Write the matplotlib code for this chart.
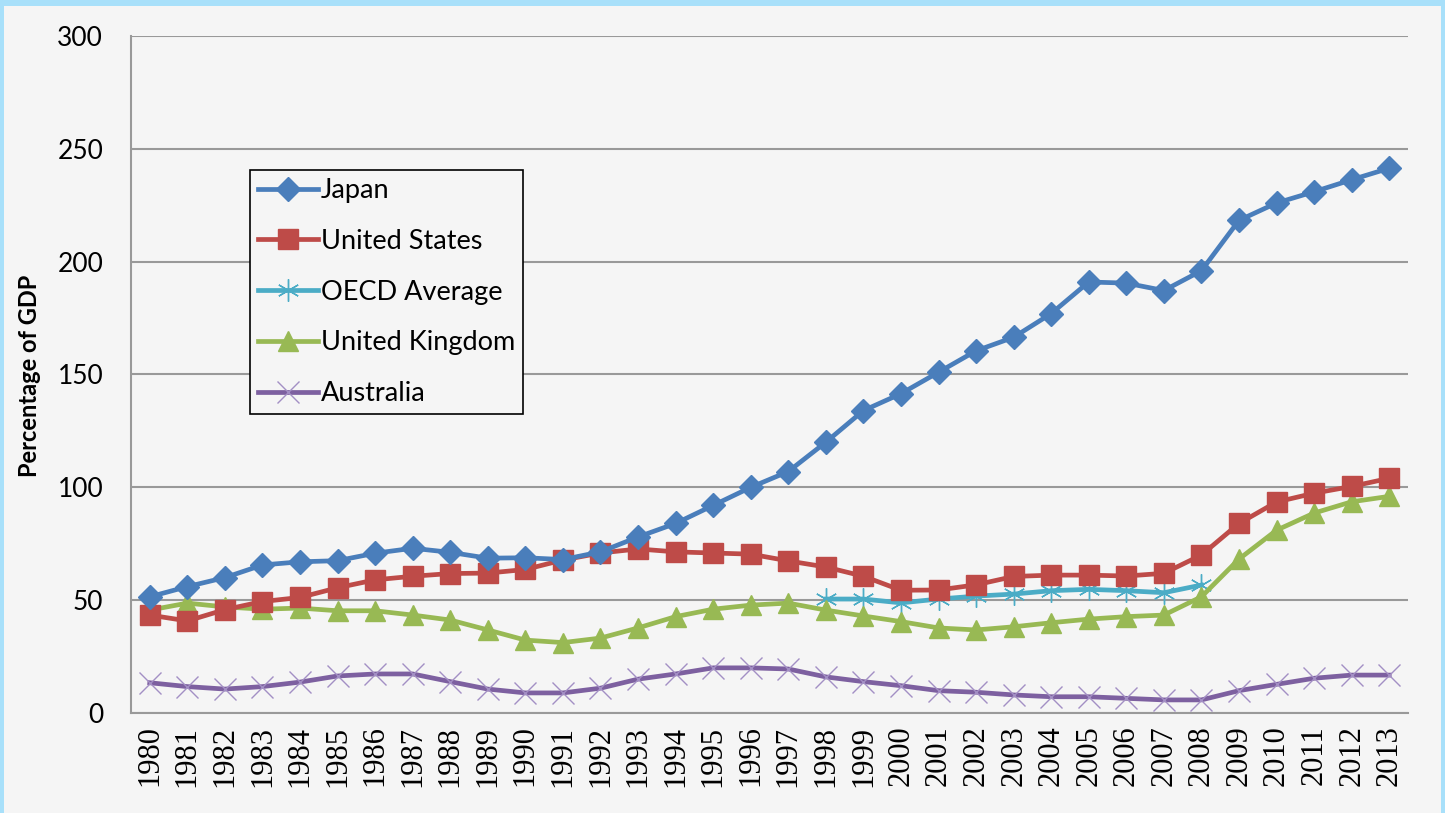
import matplotlib.pyplot as plt
from matplotlib.patches import Rectangle

years = [str(y) for y in range(1980, 2014)]

japan = [51.5, 56, 60, 65.6, 67, 67.5, 70.8, 73, 71.2, 68.6, 68.8, 68,
         71.4, 78, 84, 92, 100, 107, 120, 134, 141.5, 151, 160.5, 166.5,
         177, 191, 190.5, 187.2, 196, 218.3, 226, 231, 236.3, 241.4]
united_states = [43.4, 40.8, 45.8, 49.4, 51.2, 55.5, 59, 60.6, 61.8, 62, 63.6, 67.8,
                 70.9, 72.7, 71.4, 70.9, 70.4, 67.4, 64.7, 60.6, 54.4, 54.5, 56.8, 60.5,
                 61.1, 61.1, 60.7, 61.9, 70, 84, 93.5, 97.4, 100.4, 104]
oecd_years = years[18:29]
oecd = [50.5, 50.5, 48.8, 50.5, 51.8, 52.7, 54.2, 54.8, 54.2, 53.3, 56.7]
united_kingdom = [45.6, 48.7, 47, 46, 46.5, 45.3, 45.3, 43.4, 41.2, 36.8, 32.3, 31.2,
                  33.2, 37.7, 42.7, 46, 47.8, 48.7, 45.6, 43, 40.5, 37.7, 36.8, 38.2,
                  40, 41.6, 42.7, 43.4, 51.5, 68.2, 81, 88.6, 93.6, 96]
australia = [13.4, 11.7, 10.6, 11.7, 13.7, 16.4, 17.3, 17.3, 13.9, 10.6, 8.9, 8.9,
             11, 15, 17.3, 20, 20, 19.5, 16, 13.9, 12.1, 9.9, 9.2, 8,
             7.2, 7.2, 6.5, 5.8, 5.8, 9.9, 12.7, 15.4, 16.8, 16.8]

bg = '#f5f5f5'
fig = plt.figure(figsize=(14.45, 8.13), dpi=100, facecolor='#a8e0fa')
# light panel inside the blue frame
fig.patches.append(Rectangle((4 / 1445, 0), (1441 - 4) / 1445, (813 - 6) / 813,
                             transform=fig.transFigure, facecolor=bg,
                             edgecolor='none', zorder=-1))

ax = fig.add_axes([131 / 1445, 1 - 713 / 813, 1277 / 1445, 677 / 813])
ax.set_zorder(1)
ax.set_facecolor(bg)

lw = 3.4
ax.plot(years, japan, color='#4a7ebb', lw=lw, marker='D', ms=12.5, label='Japan', zorder=5)
ax.plot(years, united_states, color='#be4b48', lw=lw, marker='s', ms=14, label='United States', zorder=4)
ax.plot(oecd_years, oecd, color='#4bacc6', lw=lw, marker=(6, 2, 0), ms=16, mew=1.0,
        label='OECD Average', zorder=3)
ax.plot(years, united_kingdom, color='#98b954', lw=lw, marker='^', ms=15, label='United Kingdom', zorder=3)
ax.plot(years, australia, color='#7d60a0', lw=lw, marker='x', ms=16, mew=1.0,
        markeredgecolor='#a38fc4', label='Australia', zorder=3)

ax.set_xlim(-0.5, 33.5)
ax.set_ylim(0, 300)
ax.set_yticks(range(0, 301, 50))
ax.yaxis.grid(True, color='#999999', lw=1.5)
ax.set_axisbelow(True)
for s in ['top', 'right']:
    ax.spines[s].set_visible(False)
for s in ['left', 'bottom']:
    ax.spines[s].set_color('#999999')
    ax.spines[s].set_linewidth(1.5)
ax.tick_params(axis='both', length=0)
ax.tick_params(axis='y', pad=20, labelsize=19)
ax.tick_params(axis='x', pad=9, labelrotation=90, labelsize=22)
for t in ax.get_yticklabels():
    t.set_fontfamily('Lato')
for t in ax.get_xticklabels():
    t.set_fontfamily('Liberation Serif')

fig.text(30 / 1445, 1 - 376 / 813, 'Percentage of GDP', rotation=90, ha='center', va='center',
         fontsize=17, fontfamily='Lato', fontweight='bold')

leg = ax.legend(loc='upper left', bbox_to_anchor=((250 - 131) / 1277, (713 - 170) / 677),
                borderaxespad=0, frameon=True, fancybox=False, edgecolor='black',
                facecolor=bg, framealpha=1, handlelength=2.2, handletextpad=0.12,
                labelspacing=0.95, borderpad=0.3, prop={'family': 'Lato', 'size': 19.5})
leg.get_frame().set_linewidth(1.2)

fig.savefig('out.png', dpi=100, facecolor=fig.get_facecolor())
